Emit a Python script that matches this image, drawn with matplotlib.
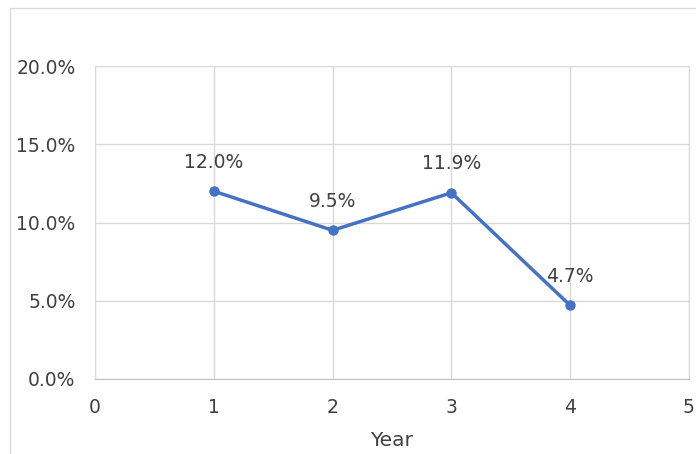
import matplotlib.pyplot as plt
from matplotlib.patches import Rectangle
from matplotlib.ticker import FuncFormatter

years = [1, 2, 3, 4]
rates = [12.0, 9.5, 11.9, 4.7]
labels = ["12.0%", "9.5%", "11.9%", "4.7%"]

W, H = 696, 454
fig = plt.figure(figsize=(W / 100, H / 100), dpi=100)
plt.rcParams['font.family'] = ['DejaVu Sans']

# chart border (cropped on right and bottom)
fig.patches.append(Rectangle((10 / W, -0.05), 1.0, 1 - 8 / H + 0.05, transform=fig.transFigure,
                             fill=False, edgecolor="#d9d9d9", linewidth=1))

ax = fig.add_axes([95 / W, 1 - 379 / H, (689 - 95) / W, (379 - 66) / H])
ax.plot(years, rates, color="#4472C4", linewidth=2.5, marker="o", markersize=6.5, zorder=3)
for x, y, t in zip(years, rates, labels):
    ax.annotate(t, (x, y), xytext=(0, 14), textcoords="offset points", ha="center",
                va="bottom", fontsize=13.5, color="#404040")

ax.set_xlim(0, 5)
ax.set_ylim(0, 20)
ax.set_xticks(range(6))
ax.set_yticks([0, 5, 10, 15, 20])
ax.yaxis.set_major_formatter(FuncFormatter(lambda v, p: f"{v:.1f}%"))
ax.grid(True, color="#d9d9d9", linewidth=1)
ax.set_axisbelow(True)
for s in ax.spines.values():
    s.set_color("#d9d9d9")
ax.spines["bottom"].set_color("#bfbfbf")
ax.tick_params(length=0, labelsize=13.5, labelcolor="#404040", pad=14)
ax.tick_params(axis="y", pad=14)
ax.set_xlabel("Year", fontsize=14.5, color="#404040", labelpad=10)

fig.savefig("out.png", dpi=100)
